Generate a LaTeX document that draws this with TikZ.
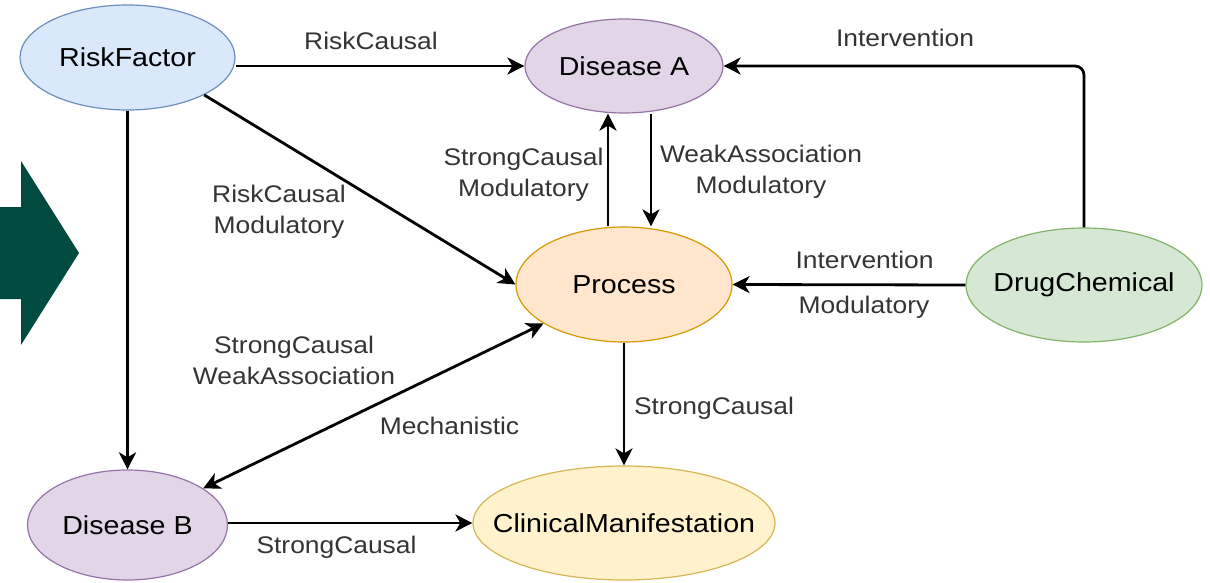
\documentclass[tikz,border=0pt]{standalone}
\usepackage{fontspec}
\setmainfont{Liberation Sans}[FakeStretch=1.1]
\usetikzlibrary{shapes.geometric,arrows.meta}
\definecolor{labelgray}{RGB}{52,52,52}
\definecolor{bluefill}{HTML}{DAE8FC}\definecolor{bluedraw}{HTML}{6C8EBF}
\definecolor{purpfill}{HTML}{E1D5E7}\definecolor{purpdraw}{HTML}{9673A6}
\definecolor{orfill}{HTML}{FFE6CC}\definecolor{ordraw}{HTML}{D79B00}
\definecolor{grfill}{HTML}{D5E8D4}\definecolor{grdraw}{HTML}{82B366}
\definecolor{yefill}{HTML}{FFF2CC}\definecolor{yedraw}{HTML}{D6B656}
\definecolor{teal}{RGB}{0,74,63}
\newcommand{\zw}[1]{\makebox[0pt]{#1}}
\tikzset{
  ent/.style={ellipse, inner sep=0pt, line width=1.2pt, font=\fontsize{26}{31}\selectfont, text=black},
  arr/.style={line width=2.8pt, -{Stealth[length=17pt,width=17pt,inset=5pt]}},
  biarr/.style={line width=2.8pt, {Stealth[length=17pt,width=17pt,inset=5pt]}-{Stealth[length=17pt,width=17pt,inset=5pt]}},
  lbl/.style={font=\fontsize{24}{31}\selectfont, text=labelgray, align=center, inner sep=0pt}
}
\begin{document}
\begin{tikzpicture}[x=1pt,y=-1pt]
\useasboundingbox (0,0) rectangle (1210,583);
\fill[white] (0,0) rectangle (1210,583);
% big arrow
\fill[teal] (0,207) -- (21,207) -- (21,161) -- (79,253) -- (21,345) -- (21,299) -- (0,299) -- cycle;
% nodes
\node[ent, fill=bluefill, draw=bluedraw, minimum width=215pt, minimum height=105pt] (rf) at (127.5,57.5) {\zw{RiskFactor}};
\node[ent, fill=purpfill, draw=purpdraw, minimum width=198pt, minimum height=94pt] (da) at (624,66) {\zw{Disease A}};
\node[ent, fill=orfill, draw=ordraw, minimum width=216pt, minimum height=115pt] (proc) at (624,284.5) {\zw{Process}};
\node[ent, fill=grfill, draw=grdraw, minimum width=236pt, minimum height=114pt] (dc) at (1084,285) {\zw{DrugChemical}};
\node[ent, fill=purpfill, draw=purpdraw, minimum width=200pt, minimum height=110pt] (db) at (127.5,525) {\zw{Disease B}};
\node[ent, fill=yefill, draw=yedraw, minimum width=302pt, minimum height=114pt] (cm) at (624,523) {\zw{ClinicalManifestation}};
\coordinate (xl) at (608,0);
\coordinate (xr) at (651,0);
% edges
\draw[arr] (rf.east |- da.west) -- (da.west);
\draw[arr] (rf.-26) -- (proc.west);
\draw[arr] (rf.south) -- (db.north);
\draw[arr] (proc.north -| xl) -- (da.south -| xl);
\draw[arr] (da.south -| xr) -- (proc.north -| xr);
\draw[arr, rounded corners=9pt] (dc.north) |- (da.east);
\draw[arr] (dc.west) -- (proc.east);
\draw[biarr] (proc) -- (db);
\draw[arr] (proc.south) -- (cm.north);
\draw[arr] (db.east |- cm.west) -- (cm.west);
% labels
\node[lbl] (l1) at (371,41) {RiskCausal};
\node[lbl] (l2) at (279,212) {RiskCausal\\Modulatory};
\node[lbl] (l3) at (523.5,175) {StrongCausal\\Modulatory};
\node[lbl] (l4) at (761,172) {WeakAssociation\\Modulatory};
\node[lbl] (l5) at (905,38) {Intervention};
\node[lbl] (l6) at (864.5,260) {Intervention};
\node[lbl] (l7) at (864,307) {Modulatory};
\node[lbl] (l8) at (294,360) {StrongCausal\\WeakAssociation};
\node[lbl] (l9) at (449.5,426) {Mechanistic};
\node[lbl] (l10) at (714,408) {StrongCausal};
\node[lbl] (l11) at (336.5,547) {StrongCausal};
\end{tikzpicture}
\end{document}
